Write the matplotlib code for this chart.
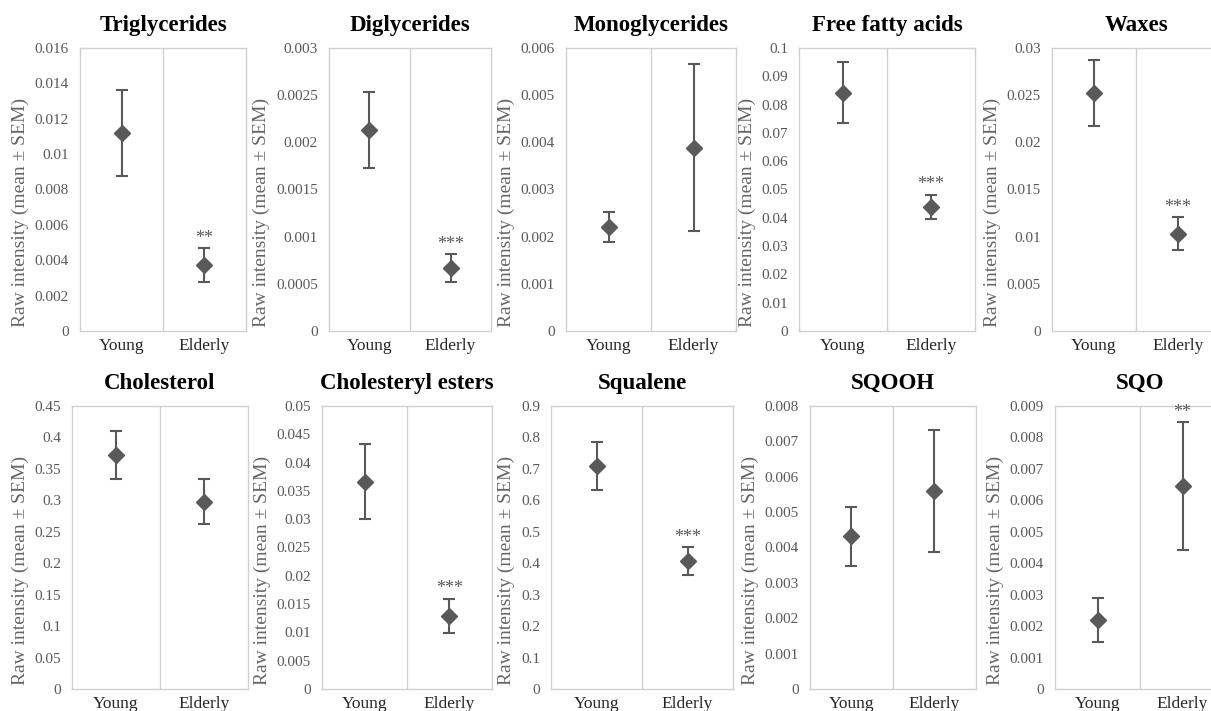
import matplotlib
matplotlib.use("Agg")
import matplotlib.pyplot as plt
from matplotlib.ticker import MultipleLocator, FuncFormatter

plt.rcParams['font.family'] = ['Liberation Serif', 'DejaVu Serif']

groups = ["Young", "Elderly"]
titles = ["Triglycerides", "Diglycerides", "Monoglycerides", "Free fatty acids", "Waxes",
          "Cholesterol", "Cholesteryl esters", "Squalene", "SQOOH", "SQO"]
means = [[0.0112, 0.00373], [0.00213, 0.000664], [0.0022, 0.00389], [0.0842, 0.0439], [0.0252, 0.0103],
         [0.372, 0.298], [0.0366, 0.0129], [0.709, 0.407], [0.00432, 0.0056], [0.00219, 0.00646]]
sems = [[0.00243, 0.00095], [0.000404, 0.000148], [0.00032, 0.00177], [0.0107, 0.0042], [0.00351, 0.00175],
        [0.0387, 0.036], [0.00662, 0.00306], [0.0768, 0.0434], [0.00083, 0.00173], [0.00071, 0.00203]]
stars = [["", "**"], ["", "***"], ["", ""], ["", "***"], ["", "***"],
         ["", ""], ["", "***"], ["", "***"], ["", ""], ["", "**"]]
ymax = [0.016, 0.003, 0.006, 0.1, 0.03, 0.45, 0.05, 0.9, 0.008, 0.009]
ystep = [0.002, 0.0005, 0.001, 0.01, 0.005, 0.05, 0.005, 0.1, 0.001, 0.001]

# panel boxes in pixels: left, top, right, bottom
W, H = 1211, 711
boxes = [(80, 48, 246, 331), (329, 48, 491, 331), (566, 48, 736, 331), (799, 48, 975, 331), (1052, 48, 1220, 331),
         (72, 406, 248, 689), (322, 406, 492, 689), (551, 406, 733, 689), (810, 406, 976, 689), (1055, 406, 1225, 689)]

fig = plt.figure(figsize=(W / 100, H / 100), dpi=100)
fig.patch.set_facecolor('white')

dark = '#595959'
for i in range(10):
    l, t, r, b = boxes[i]
    ax = fig.add_axes([l / W, 1 - b / H, (r - l) / W, (b - t) / H])
    x = [0.5, 1.5]
    ax.errorbar(x, means[i], yerr=sems[i], fmt='D', color=dark, ecolor=dark,
                markersize=8, elinewidth=1.5, capsize=4, capthick=1.5)
    for j in range(2):
        if stars[i][j]:
            ax.annotate(stars[i][j], (x[j], means[i][j] + sems[i][j]), xytext=(0, 1),
                        textcoords='offset points', ha='center', va='bottom',
                        fontsize=13, color=dark)
    ax.axvline(1.0, color='#d0d0d0', lw=1)
    ax.set_xlim(0, 2)
    ax.set_ylim(0, ymax[i])
    ax.yaxis.set_major_locator(MultipleLocator(ystep[i]))
    ax.yaxis.set_major_formatter(FuncFormatter(lambda v, p: f"{round(v, 6):g}"))
    ax.set_xticks(x)
    ax.set_xticklabels(groups, fontsize=12.5, color='#262626')
    ax.tick_params(axis='y', length=0, labelsize=11, labelcolor=dark, pad=8)
    ax.tick_params(axis='x', length=0, pad=5)
    for s in ax.spines.values():
        s.set_color('#d0d0d0')
        s.set_linewidth(1)
    ax.set_ylabel("Raw intensity (mean ± SEM)", fontsize=14, color='#666666', labelpad=4)
    ax.yaxis.label.set_y(0.42)
    ax.set_title(titles[i], fontsize=16.5, fontweight='bold', pad=12)

fig.savefig("out.png", dpi=100, facecolor='white')
